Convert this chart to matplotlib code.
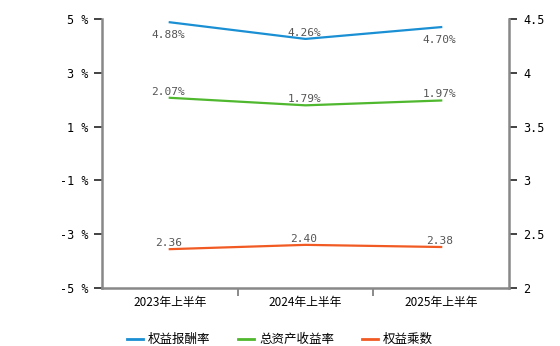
import numpy as np
import matplotlib
matplotlib.use('Agg')
from matplotlib import pyplot as plt
from matplotlib.lines import Line2D

plt.rcParams['font.family'] = ['Noto Sans CJK SC', 'DejaVu Sans']

periods = ['2023年上半年', '2024年上半年', '2025年上半年']
roe = [4.88, 4.26, 4.70]
roa = [2.07, 1.79, 1.97]
multiplier = [2.36, 2.40, 2.38]
series_names = ['权益报酬率', '总资产收益率', '权益乘数']
colors = ['#1a8fd3', '#4fb82e', '#f15a22']

left_ticks = [-5, -3, -1, 1, 3, 5]
right_ticks = [2, 2.5, 3, 3.5, 4, 4.5]


def main():
	fig = plt.figure(figsize=(5.6, 3.46), dpi=100)
	ax = fig.add_axes([0.182, 0.168, 0.727, 0.777])
	ax2 = ax.twinx()

	x = np.arange(len(periods))
	ax.plot(x, roe, color=colors[0], lw=1.6)
	ax.plot(x, roa, color=colors[1], lw=1.6)
	ax2.plot(x, multiplier, color=colors[2], lw=1.6)

	ax.set_xlim(-0.5, len(periods) - 0.5)
	ax.set_ylim(-5, 5)
	ax2.set_ylim(2, 4.5)

	mono = dict(family='DejaVu Sans Mono', fontsize=8, color='#555555', ha='center')
	# value labels
	offs_roe = [-9, 4.5, -9]
	for i, v in enumerate(roe):
		ax.annotate('%.2f%%' % v, (x[i], v), xytext=(-1, offs_roe[i]), textcoords='offset points',
			va='center', **mono)
	for i, v in enumerate(roa):
		ax.annotate('%.2f%%' % v, (x[i], v), xytext=(-1, 4.5), textcoords='offset points',
			va='center', **mono)
	for i, v in enumerate(multiplier):
		ax2.annotate('%.2f' % v, (x[i], v), xytext=(-1, 4.5), textcoords='offset points',
			va='center', **mono)

	ax.set_yticks(left_ticks)
	ax.set_yticklabels(['%d %%' % t for t in left_ticks], family='DejaVu Sans Mono', fontsize=8.5)
	ax2.set_yticks(right_ticks)
	ax2.set_yticklabels(['%g' % t for t in right_ticks], family='DejaVu Sans Mono', fontsize=8.5)

	ax.set_xticks(x)
	ax.set_xticklabels(periods, fontsize=8.5)
	ax.tick_params(axis='x', length=0, pad=6)
	ax.set_xticks([0.5, 1.5], minor=True)
	ax.tick_params(axis='x', which='minor', length=6, width=1.2, color='#777777')
	ax.tick_params(axis='y', length=6, width=1.2, color='#222222', pad=4)
	ax2.tick_params(axis='y', length=6, width=1.2, color='#222222', pad=4)

	for a in (ax, ax2):
		for s in a.spines.values():
			s.set_visible(False)
	ax.spines['left'].set_visible(True)
	ax.spines['bottom'].set_visible(True)
	ax2.spines['right'].set_visible(True)
	for s in (ax.spines['left'], ax.spines['bottom'], ax2.spines['right']):
		s.set_color('#888888')
		s.set_linewidth(1.8)

	handles = [Line2D([], [], color=c, lw=2) for c in colors]
	fig.legend(handles, series_names, loc='center', bbox_to_anchor=(0.5, 0.018), ncol=3,
		frameon=False, fontsize=9, handlelength=1.3, handletextpad=0.4, columnspacing=2.2)

	fig.savefig('out.png', dpi=100)


if __name__ == "__main__":
	main()
